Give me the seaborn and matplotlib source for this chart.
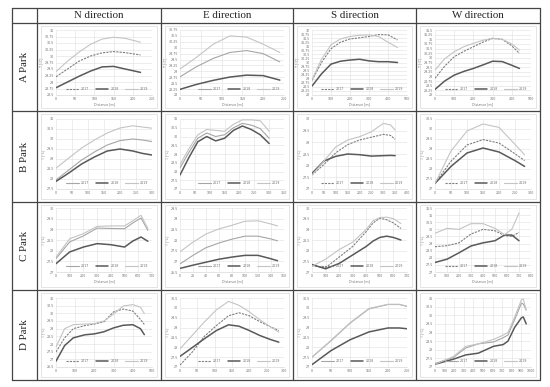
import numpy as np
import matplotlib
matplotlib.use("Agg")
import matplotlib.pyplot as plt
from matplotlib.lines import Line2D
from matplotlib.patches import Rectangle
import seaborn as sns

years = ["2017", "2018", "2019"]
directions = ["N direction", "E direction", "S direction", "W direction"]
parks = ["A Park", "B Park", "C Park", "D Park"]

# ---- A Park ----
an_x = [0, 30, 60, 90, 120, 150, 180, 220]
an_2017 = [29.2, 29.5, 29.8, 30.0, 30.12, 30.17, 30.13, 30.04]
an_2018 = [28.78, 29.0, 29.22, 29.42, 29.58, 29.6, 29.5, 29.37]
an_2019 = [29.4, 29.8, 30.15, 30.45, 30.65, 30.72, 30.68, 30.53]

ae_x = [0, 40, 80, 120, 160, 200, 240]
ae_2017 = [28.77, 29.2, 29.55, 29.8, 29.88, 29.75, 29.4]
ae_2018 = [28.24, 28.45, 28.62, 28.76, 28.84, 28.82, 28.63]
ae_2019 = [29.1, 29.6, 30.15, 30.5, 30.45, 30.15, 29.8]

as_x = [0, 50, 100, 150, 200, 250, 300, 350, 400, 450]
as_2017 = [28.9, 30.0, 30.85, 31.25, 31.45, 31.52, 31.6, 31.72, 31.7, 31.39]
as_2018 = [28.55, 29.3, 29.9, 30.08, 30.15, 30.2, 30.1, 30.05, 30.05, 30.0]
as_2019 = [28.95, 30.2, 31.09, 31.45, 31.6, 31.68, 31.7, 31.6, 31.25, 30.92]

aw_x = [0, 50, 100, 150, 200, 250, 300, 350, 400, 440]
aw_2017 = [28.9, 29.55, 30.06, 30.35, 30.6, 30.85, 31.05, 31.0, 30.65, 30.24]
aw_2018 = [28.3, 28.75, 29.07, 29.27, 29.43, 29.62, 29.82, 29.8, 29.6, 29.43]
aw_2019 = [29.34, 29.95, 30.33, 30.6, 30.78, 30.95, 31.06, 31.0, 30.75, 30.42]

# ---- B Park ----
bn_x = [0, 40, 80, 120, 160, 200, 240, 270, 300]
bn_2017 = [27.95, 28.45, 28.95, 29.35, 29.7, 29.92, 30.0, 29.95, 29.87]
bn_2018 = [27.88, 28.3, 28.75, 29.1, 29.4, 29.5, 29.4, 29.28, 29.2]
bn_2019 = [28.54, 29.05, 29.55, 29.95, 30.3, 30.55, 30.66, 30.6, 30.54]

be_x = [0, 30, 60, 90, 120, 150, 180, 210, 240, 270, 300]
be_2017 = [28.2, 29.1, 29.9, 30.2, 30.0, 30.1, 30.5, 30.75, 30.65, 30.45, 29.9]
be_2018 = [27.8, 28.8, 29.7, 30.0, 29.75, 29.9, 30.35, 30.6, 30.4, 30.1, 29.6]
be_2019 = [28.4, 29.3, 30.1, 30.4, 30.35, 30.3, 30.7, 30.95, 30.95, 30.9, 30.3]

bs_x = [0, 50, 100, 150, 200, 250, 300, 330, 350]
bs_2017 = [27.6, 28.05, 28.55, 28.9, 29.1, 29.22, 29.34, 29.3, 29.13]
bs_2018 = [27.67, 28.2, 28.4, 28.5, 28.47, 28.41, 28.43, 28.44, 28.43]
bs_2019 = [27.6, 28.2, 28.8, 29.1, 29.24, 29.45, 29.81, 29.75, 29.53]

bw_x = [0, 50, 100, 150, 200, 250, 280]
bw_2017 = [27.28, 28.39, 29.2, 29.47, 29.3, 28.76, 28.42]
bw_2018 = [27.28, 28.13, 28.8, 29.05, 28.85, 28.42, 28.13]
bw_2019 = [27.28, 28.9, 29.9, 30.25, 30.08, 29.23, 28.71]

# ---- C Park ----
cn_x = [0, 100, 200, 300, 400, 500, 560, 620, 670]
cn_2017 = [27.63, 28.41, 28.69, 29.06, 29.04, 29.03, 29.3, 29.53, 28.95]
cn_2018 = [27.39, 27.94, 28.17, 28.33, 28.28, 28.17, 28.45, 28.64, 28.44]
cn_2019 = [27.7, 28.56, 28.8, 29.14, 29.16, 29.16, 29.4, 29.66, 29.03]

ce_x = [0, 20, 40, 60, 80, 100, 120, 140, 150]
ce_2017 = [26.88, 27.28, 27.64, 27.86, 28.04, 28.18, 28.18, 28.05, 27.96]
ce_2018 = [26.67, 26.82, 26.96, 27.1, 27.2, 27.28, 27.28, 27.12, 27.03]
ce_2019 = [27.45, 27.9, 28.28, 28.52, 28.69, 28.88, 28.9, 28.75, 28.66]

cs_x = [0, 100, 200, 300, 400, 450, 500, 550, 600, 655]
cs_2017 = [27.3, 27.2, 27.7, 28.2, 28.9, 29.3, 29.52, 29.45, 29.3, 29.04]
cs_2018 = [27.35, 27.15, 27.4, 27.8, 28.2, 28.45, 28.62, 28.68, 28.62, 28.5]
cs_2019 = [27.27, 27.6, 28.05, 28.4, 29.0, 29.4, 29.55, 29.57, 29.5, 29.27]

cw_x = [0, 100, 200, 300, 400, 500, 580, 640, 700]
cw_2017 = [28.78, 28.85, 29.05, 29.67, 30.0, 29.9, 29.56, 29.5, 29.78]
cw_2018 = [27.67, 27.9, 28.35, 28.83, 29.05, 29.2, 29.6, 29.6, 29.2]
cw_2019 = [29.72, 30.07, 30.0, 30.4, 30.4, 30.07, 29.63, 30.0, 31.15]

# ---- D Park ----
dn_x = [0, 45, 90, 150, 200, 250, 300, 350, 400, 440, 460]
dn_2017 = [27.48, 28.4, 29.0, 29.2, 29.3, 29.45, 30.1, 30.28, 30.15, 29.6, 29.28]
dn_2018 = [26.88, 27.9, 28.4, 28.6, 28.66, 28.8, 29.05, 29.22, 29.26, 29.0, 28.61]
dn_2019 = [27.81, 29.0, 29.26, 29.3, 29.33, 29.5, 29.95, 30.48, 30.57, 30.4, 29.98]

de_x = [0, 35, 70, 105, 140, 170, 200, 230, 260, 285]
de_2017 = [27.1, 27.75, 28.55, 29.1, 29.6, 29.75, 29.6, 29.3, 29.05, 28.85]
de_2018 = [27.54, 27.98, 28.43, 28.85, 29.14, 29.07, 28.85, 28.6, 28.4, 28.26]
de_2019 = [27.92, 28.6, 29.28, 29.9, 30.33, 30.13, 29.8, 29.4, 29.05, 28.77]

ds_x = [0, 50, 100, 150, 200, 230, 260]
ds_2017 = [27.5, 28.33, 29.22, 29.95, 30.17, 30.17, 30.02]
ds_2018 = [27.12, 27.83, 28.38, 28.78, 28.98, 28.98, 28.92]
ds_2019 = [27.5, 28.35, 29.24, 29.97, 30.18, 30.18, 30.04]

dw_x = [0, 190, 320, 450, 610, 710, 760, 830, 900, 920, 950]
dw_2017 = [27.2, 27.55, 28.1, 28.34, 28.45, 28.7, 28.85, 29.75, 30.7, 30.65, 30.3]
dw_2018 = [27.16, 27.45, 27.7, 27.8, 28.2, 28.3, 28.5, 29.3, 29.85, 29.9, 29.5]
dw_2019 = [27.16, 27.6, 28.2, 28.34, 28.6, 28.85, 29.0, 29.9, 30.9, 30.94, 30.3]

# axis ticks per panel: (start, stop, step)
x_ticks = [[(0, 250, 50), (0, 250, 50), (0, 500, 100), (0, 500, 100)],
           [(0, 300, 50), (0, 350, 50), (0, 400, 50), (0, 300, 50)],
           [(0, 700, 100), (0, 160, 20), (0, 700, 100), (0, 800, 100)],
           [(0, 500, 100), (0, 300, 50), (0, 250, 50), (0, 1000, 100)]]
y_ticks = [[(28.5, 31, 0.25), (28, 30.75, 0.25), (28, 32, 0.25), (28, 31.5, 0.25)],
           [(27.5, 31, 0.5), (27, 31, 0.5), (27, 30, 0.5), (27, 30.5, 0.5)],
           [(27, 30, 0.5), (26.5, 29.5, 0.5), (27, 30, 0.5), (27, 31.5, 0.5)],
           [(26.5, 31, 0.5), (27, 30.5, 0.5), (27, 30.5, 0.5), (27, 31, 0.5)]]

panels = [[(an_x, an_2017, an_2018, an_2019), (ae_x, ae_2017, ae_2018, ae_2019),
           (as_x, as_2017, as_2018, as_2019), (aw_x, aw_2017, aw_2018, aw_2019)],
          [(bn_x, bn_2017, bn_2018, bn_2019), (be_x, be_2017, be_2018, be_2019),
           (bs_x, bs_2017, bs_2018, bs_2019), (bw_x, bw_2017, bw_2018, bw_2019)],
          [(cn_x, cn_2017, cn_2018, cn_2019), (ce_x, ce_2017, ce_2018, ce_2019),
           (cs_x, cs_2017, cs_2018, cs_2019), (cw_x, cw_2017, cw_2018, cw_2019)],
          [(dn_x, dn_2017, dn_2018, dn_2019), (de_x, de_2017, de_2018, de_2019),
           (ds_x, ds_2017, ds_2018, ds_2019), (dw_x, dw_2017, dw_2018, dw_2019)]]

# panels where the 2017 line is dashed
dashed_2017 = {(0, 0), (0, 2), (0, 3), (1, 2), (1, 3), (2, 2), (2, 3), (3, 0), (3, 1)}

sns.set_theme(style="whitegrid")
plt.rcParams["font.family"] = ["DejaVu Sans"]

W, H = 550, 387
fig = plt.figure(figsize=(5.5, 3.87), dpi=100)
fig.patch.set_facecolor("white")

col_edges = [12, 37, 161, 293, 416, 540]
row_edges = [8, 23, 111, 202, 290, 380]
row_pad = [(7, 16), (8, 13), (6, 18), (8, 13)]   # top, bottom (px)


def line(x0, y0, x1, y1):
    fig.add_artist(Line2D([x0 / W, x1 / W], [1 - y0 / H, 1 - y1 / H],
                          transform=fig.transFigure, color="#444444", lw=0.9))


# table grid
for x in col_edges:
    line(x, row_edges[0], x, row_edges[-1])
for y in row_edges:
    line(col_edges[0], y, col_edges[-1], y)

serif = ["Liberation Serif", "DejaVu Serif"]
for j, d in enumerate(directions):
    cx = (col_edges[j + 1] + col_edges[j + 2]) / 2
    cy = (row_edges[0] + row_edges[1]) / 2
    fig.text(cx / W, 1 - cy / H, d, ha="center", va="center",
             fontsize=7.8, family=serif, color="#222222")
for i, p in enumerate(parks):
    cx = (col_edges[0] + col_edges[1]) / 2
    cy = (row_edges[i + 1] + row_edges[i + 2]) / 2
    fig.text(cx / W, 1 - cy / H, p, ha="center", va="center", rotation=90,
             fontsize=7.8, family=serif, color="#222222")

c2017, c2018, c2019 = "#7f7f7f", "#595959", "#c4c4c4"

for i in range(4):
    for j in range(4):
        cx0, cx1 = col_edges[j + 1], col_edges[j + 2]
        ry0, ry1 = row_edges[i + 1], row_edges[i + 2]
        # chart frame
        fig.add_artist(Rectangle(((cx0 + 4) / W, 1 - (ry1 - 3) / H),
                                 (cx1 - cx0 - 8) / W, (ry1 - ry0 - 6) / H,
                                 transform=fig.transFigure, fill=False,
                                 ec="#d9d9d9", lw=0.5))
        top, bot = row_pad[i]
        left = cx0 + 19
        right = cx1 - 9
        ax = fig.add_axes([left / W, 1 - (ry1 - bot) / H,
                           (right - left) / W, (ry1 - bot - ry0 - top) / H])
        x, s17, s18, s19 = panels[i][j]
        if (i, j) in dashed_2017:
            sns.lineplot(x=x, y=s17, ax=ax, color=c2017, lw=0.8,
                         linestyle=(0, (2, 1)), label="2017")
        else:
            sns.lineplot(x=x, y=s17, ax=ax, color="#a6a6a6", lw=0.8, label="2017")
        sns.lineplot(x=x, y=s18, ax=ax, color=c2018, lw=1.1, label="2018")
        sns.lineplot(x=x, y=s19, ax=ax, color=c2019, lw=0.8, label="2019")

        xs = x_ticks[i][j]
        ys = y_ticks[i][j]
        ax.set_xlim(xs[0], xs[1])
        ax.set_ylim(ys[0], ys[1])
        ax.set_xticks(np.arange(xs[0], xs[1] + xs[2] / 2, xs[2]))
        yt = np.arange(ys[0], ys[1] + ys[2] / 2, ys[2])
        ax.set_yticks(yt)
        ax.set_yticklabels([f"{v:g}" for v in yt])
        ax.grid(True, color="#e0e0e0", lw=0.4)
        for sp in ax.spines.values():
            sp.set_visible(False)
        ax.spines["bottom"].set_visible(True)
        ax.spines["bottom"].set_color("#d0d0d0")
        ax.spines["bottom"].set_linewidth(0.4)
        ax.tick_params(length=0, labelsize=2.3, colors="#707070", pad=1.5)
        ax.set_ylabel("T [°C]", fontsize=2.3, color="#707070", labelpad=1)
        if i in (0, 2):
            ax.set_xlabel("Distance [m]", fontsize=2.3, color="#707070", labelpad=1)
        else:
            ax.set_xlabel("")
        leg = ax.legend(ncol=3, loc="lower right", fontsize=2.3, frameon=False,
                        handlelength=4, columnspacing=2.0, handletextpad=0.6,
                        borderaxespad=0.8)
        for t in leg.get_texts():
            t.set_color("#707070")

fig.savefig("out.png", dpi=100, facecolor="white")
